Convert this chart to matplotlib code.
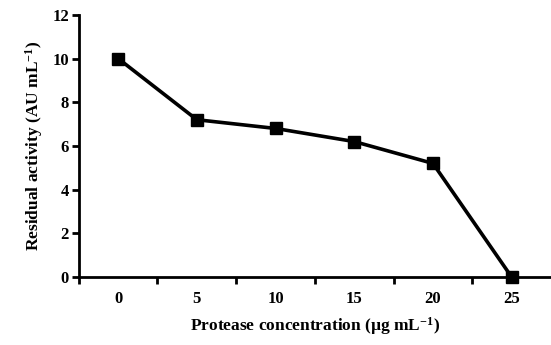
import matplotlib
matplotlib.use('Agg')
import matplotlib.pyplot as plt

# protease concentration vs residual activity
conc = [0, 5, 10, 15, 20, 25]
activity = [10.0, 7.2, 6.8, 6.2, 5.2, 0.0]
xtick_labels = ['0', '5', '10', '15', '20', '25']
yticks = [0, 2, 4, 6, 8, 10, 12]

plt.rcParams['font.family'] = ['Liberation Serif', 'DejaVu Serif']
plt.rcParams['font.weight'] = 'bold'
plt.rcParams['axes.labelweight'] = 'bold'
plt.rcParams['mathtext.fontset'] = 'custom'
plt.rcParams['mathtext.rm'] = 'Liberation Serif:bold'
plt.rcParams['mathtext.it'] = 'Liberation Serif:bold'
plt.rcParams['mathtext.bf'] = 'Liberation Serif:bold'

fig = plt.figure(figsize=(5.51, 3.45), dpi=100)
ax = fig.add_axes([0.143, 0.197, 0.857, 0.76])

ax.plot(conc, activity, color='black', lw=2.6, marker='s', ms=8,
        clip_on=False, zorder=3)

ax.set_xlim(-2.5, 27.5)
ax.set_ylim(0, 12)
ax.spines['top'].set_visible(False)
ax.spines['right'].set_visible(False)
ax.spines['left'].set_linewidth(2)
ax.spines['bottom'].set_linewidth(2)

ax.set_xticks(conc)
ax.set_xticklabels(xtick_labels)
ax.set_xticks([-2.5, 2.5, 7.5, 12.5, 17.5, 22.5], minor=True)
ax.tick_params(axis='x', which='major', length=0, pad=10, labelsize=12)
ax.tick_params(axis='x', which='minor', length=5, width=2, direction='out')
ax.set_yticks(yticks)
ax.tick_params(axis='y', which='major', length=5, width=2, labelsize=12, pad=2)

ax.set_xlabel('Protease concentration (\u00b5g mL$^{-1}$)', fontsize=12.5, labelpad=6)
ax.set_ylabel('Residual activity (AU mL$^{-1}$)', fontsize=12.5, labelpad=5)

fig.savefig('out.png', dpi=100)
